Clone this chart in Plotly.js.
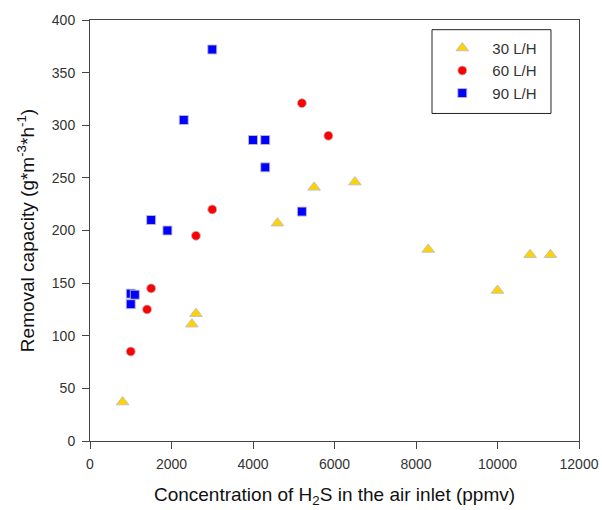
<!DOCTYPE html>
<html>
<head>
<meta charset="utf-8">
<script src="https://cdn.plot.ly/plotly-3.0.1.min.js"></script>
<style>html,body{margin:0;padding:0;background:#fff;}#chart{width:602px;height:510px;}</style>
</head>
<body>
<div id="chart"></div>
<script>
// 30 L/H
const x30 = [800, 2500, 2600, 4600, 5500, 6500, 8300, 10000, 10800, 11300];
const y30 = [37, 111, 121, 207, 241, 246, 182, 143, 177, 177];
// 60 L/H
const x60 = [1000, 1400, 1500, 2600, 3000, 5200, 5850];
const y60 = [85, 125, 145, 195, 220, 321, 290];
// 90 L/H
const x90 = [1000, 1100, 1000, 1500, 1900, 2300, 3000, 4000, 4300, 4300, 5200];
const y90 = [140, 139, 130, 210, 200, 305, 372, 286, 286, 260, 218];
const seriesNames = ['30 L/H', '60 L/H', '90 L/H'];
const xTicks = [0, 2000, 4000, 6000, 8000, 10000, 12000];

const outline = {color: 'rgba(190,190,200,0.9)', width: 1};
const traces = [
  {x: x30, y: y30, name: seriesNames[0], mode: 'markers', type: 'scatter',
   marker: {symbol: 'triangle-up', size: 11, color: '#FFD200', line: outline}},
  {x: x60, y: y60, name: seriesNames[1], mode: 'markers', type: 'scatter',
   marker: {symbol: 'circle', size: 9, color: '#FF0000', line: outline}},
  {x: x90, y: y90, name: seriesNames[2], mode: 'markers', type: 'scatter',
   marker: {symbol: 'square', size: 9, color: '#0000FF', line: outline}}
];

const fam = 'Liberation Sans, Arial, sans-serif';
const tickFont = {family: fam, size: 14, color: '#333'};
const layout = {
  width: 602, height: 510,
  margin: {l: 90, r: 23, t: 20, b: 69},
  paper_bgcolor: '#fff', plot_bgcolor: '#fff',
  showlegend: true,
  legend: {
    x: 0.70, y: 0.972, xanchor: 'left', yanchor: 'top',
    borderwidth: 0, bgcolor: 'rgba(0,0,0,0)',
    font: {family: fam, size: 15, color: '#333'},
    itemwidth: 50
  },
  shapes: [{type: 'rect', xref: 'paper', yref: 'paper',
            x0: 0.6994, x1: 0.9427, y0: 0.778, y1: 0.977,
            line: {color: '#222', width: 1}, fillcolor: 'rgba(0,0,0,0)', layer: 'below'}],
  xaxis: {
    range: [0, 12000], tickvals: xTicks, ticktext: xTicks.map(String),
    showgrid: false, zeroline: false, showline: true, mirror: true,
    linecolor: '#444', linewidth: 1, ticks: 'outside', ticklen: 7, tickcolor: '#444',
    tickfont: tickFont, ticklabelstandoff: 3,
    title: {text: 'Concentration of H<sub>2</sub>S in the air inlet (ppmv)',
            font: {family: fam, size: 19, color: '#111'}, standoff: 16}
  },
  yaxis: {
    range: [0, 400], dtick: 50, tick0: 0,
    showgrid: false, zeroline: false, showline: true, mirror: true,
    linecolor: '#444', linewidth: 1, ticks: 'outside', ticklen: 7, tickcolor: '#444',
    tickfont: tickFont, ticklabelstandoff: 4,
    title: {text: 'Removal capacity (g*m<sup>-3</sup>*h<sup>-1</sup>)',
            font: {family: fam, size: 19, color: '#111'}, standoff: 12}
  }
};
Plotly.newPlot('chart', traces, layout, {staticPlot: true, displayModeBar: false});
</script>
</body>
</html>
